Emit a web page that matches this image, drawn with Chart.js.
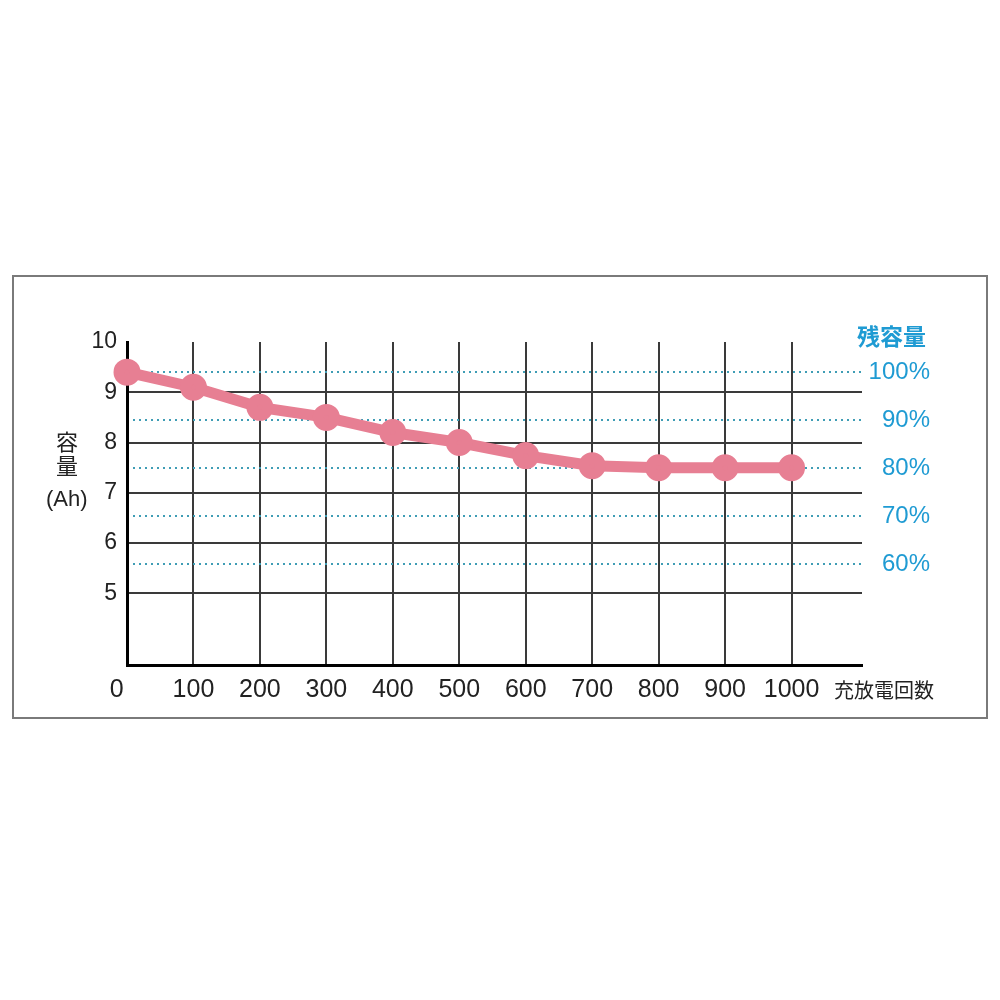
<!DOCTYPE html>
<html>
<head>
<meta charset="utf-8">
<script src="https://cdn.jsdelivr.net/npm/chart.js@4/dist/chart.umd.min.js"></script>
<style>
  body { margin: 0; background: #fff; }
  #wrap { position: relative; width: 1000px; height: 1000px; }
  #box { position: absolute; left: 12px; top: 275px; width: 972px; height: 440px; border: 2px solid #7a7a7a; }
  canvas { position: absolute; left: 0; top: 0; }
  .lbl { position: absolute; font-family: "Noto Sans CJK JP", sans-serif; color: #222; white-space: nowrap; }
</style>
</head>
<body>
<div id="wrap">
  <div id="box"></div>
  <canvas id="chart" width="1000" height="1000"></canvas>
  <div class="lbl" style="left:56px;top:428px;font-size:22px;line-height:24px;">容<br>量</div>
  <div class="lbl" style="left:46px;top:486px;font-size:22px;font-family:'Liberation Sans',sans-serif;">(Ah)</div>
  <div class="lbl" style="left:857px;top:318px;font-size:23px;font-weight:bold;color:#1f9bd3;">残容量</div>
  <div class="lbl" style="left:834px;top:675px;font-size:20px;">充放電回数</div>
</div>
<script>
// data
const cycles = [0, 100, 200, 300, 400, 500, 600, 700, 800, 900, 1000];
const capacity = [9.4, 9.1, 8.7, 8.5, 8.2, 8.0, 7.74, 7.54, 7.5, 7.5, 7.5];
const xTicks = [0, 100, 200, 300, 400, 500, 600, 700, 800, 900, 1000];
const ahTicks = [5, 6, 7, 8, 9, 10];
const pctTicks = [60, 70, 80, 90, 100];

const numFont = "'Liberation Sans', Arial, sans-serif";

new Chart(document.getElementById("chart"), {
  type: "line",
  data: {
    datasets: [{
      data: cycles.map((c, i) => ({ x: c, y: capacity[i] })),
      borderColor: "#e77f93",
      backgroundColor: "#e77f93",
      borderWidth: 11,
      pointRadius: 8,
      pointHoverRadius: 8,
      tension: 0,
      clip: false,
      yAxisID: "y"
    }]
  },
  options: {
    responsive: false,
    animation: false,
    events: [],
    layout: { padding: { left: 40, top: 342, right: 70, bottom: 0 } },
    plugins: { legend: { display: false }, tooltip: { enabled: false } },
    scales: {
      x: {
        type: "linear",
        min: 0,
        max: 1106,
        afterBuildTicks: s => { s.ticks = xTicks.map(v => ({ value: v })); },
        afterFit: s => { s.height = 335; },
        ticks: {
          padding: 10,
          color: "#222",
          font: { family: numFont, size: 25 },
          callback: v => v === 0 ? "0   " : String(v)
        },
        grid: { color: "#3a3a3a", lineWidth: 2, drawTicks: false },
        border: { color: "#000", width: 3 }
      },
      y: {
        position: "left",
        min: 3.575,
        max: 10,
        afterBuildTicks: s => { s.ticks = ahTicks.map(v => ({ value: v })); },
        afterFit: s => { s.width = 87; },
        ticks: {
          padding: 10,
          color: "#222",
          font: { family: numFont, size: 23 }
        },
        grid: {
          color: c => c.tick && c.tick.value === 10 ? "rgba(0,0,0,0)" : "#3a3a3a",
          lineWidth: 2,
          drawTicks: false
        },
        border: { color: "#000", width: 3 }
      },
      y2: {
        position: "right",
        min: 38.98,
        max: 106.3,
        afterBuildTicks: s => { s.ticks = pctTicks.map(v => ({ value: v })); },
        afterFit: s => { s.width = 68; },
        ticks: {
          padding: 4,
          crossAlign: "far",
          color: "#1f9bd3",
          font: { family: numFont, size: 24 },
          callback: v => v + "%"
        },
        grid: { color: "#3f9db5", lineWidth: 2, drawTicks: false },
        border: { display: false, dash: [2, 4] }
      }
    }
  }
});
</script>
</body>
</html>
